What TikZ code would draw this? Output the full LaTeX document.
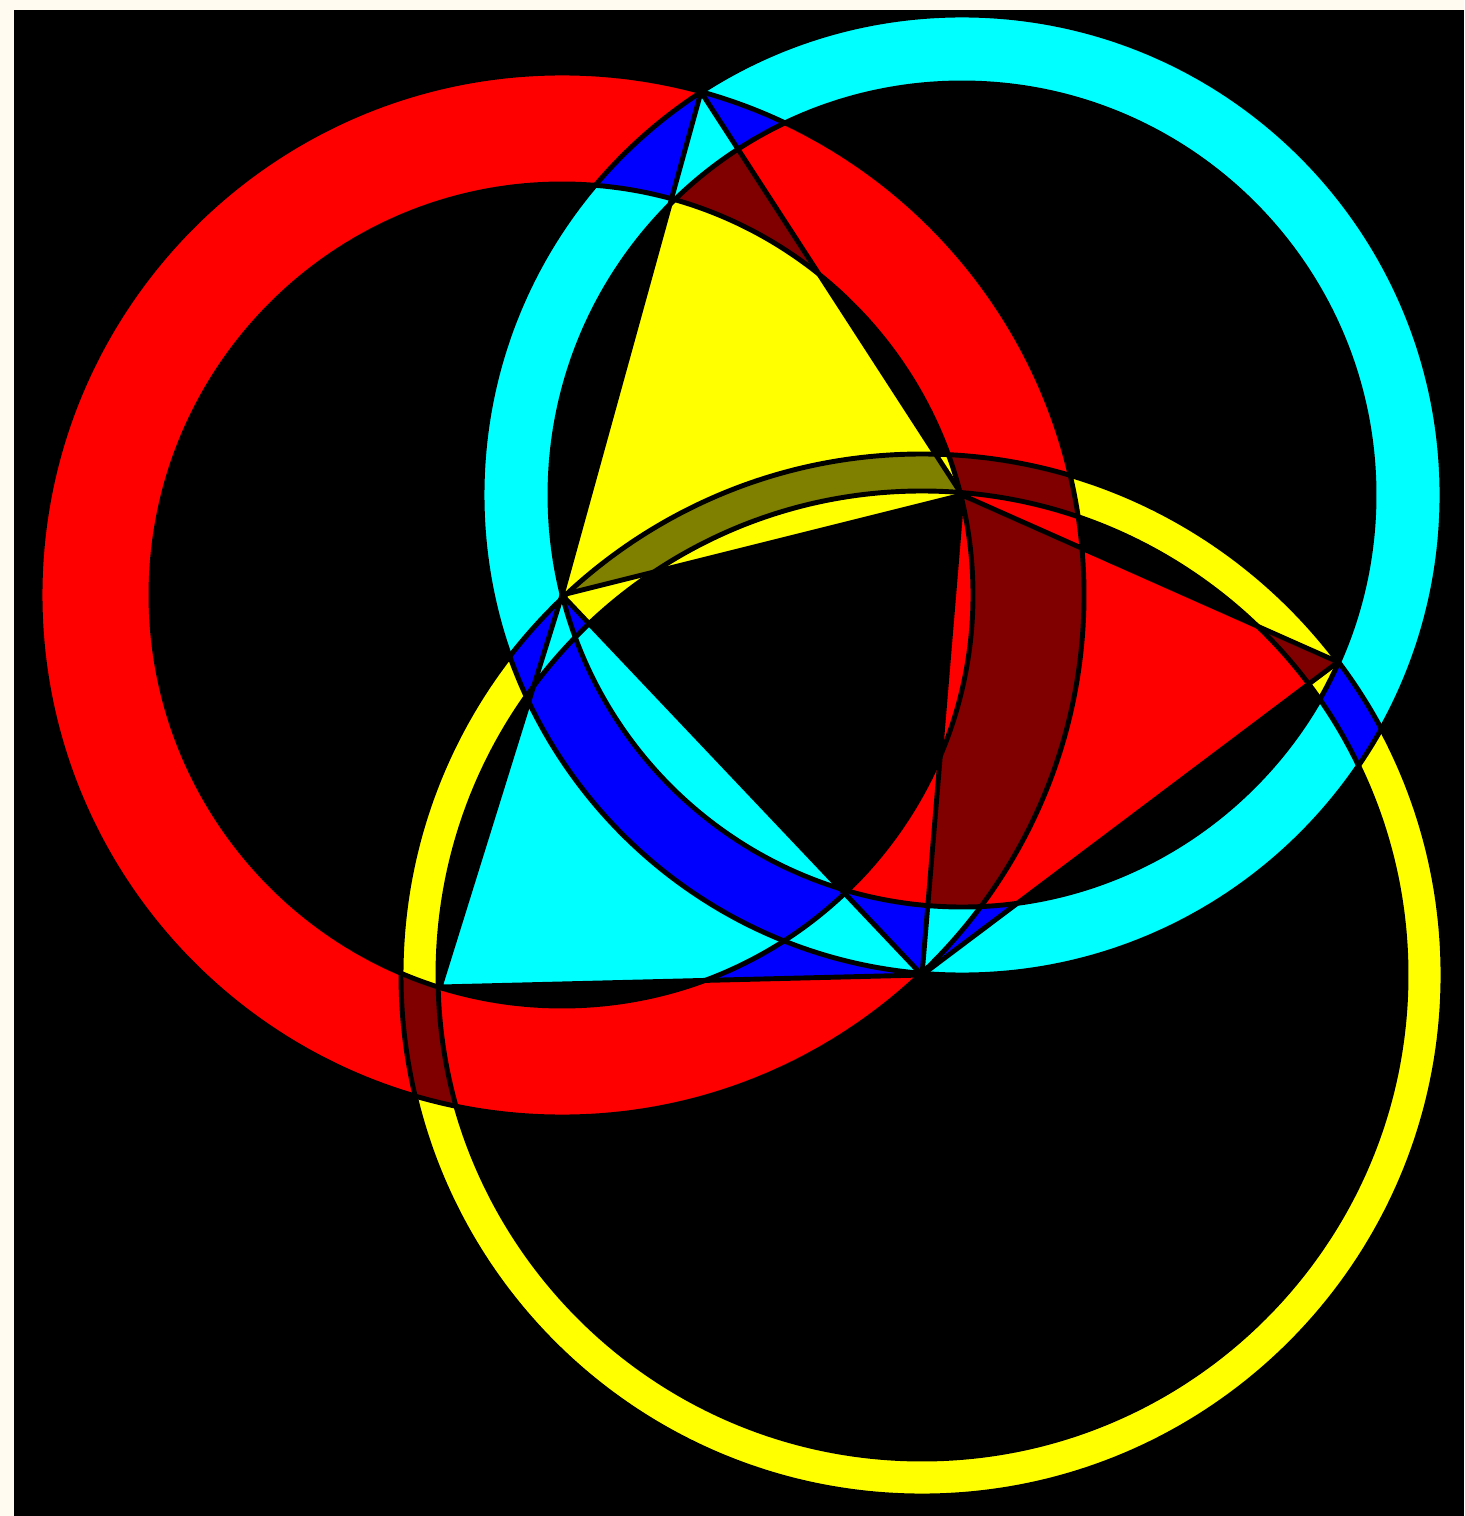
\documentclass[tikz,border=0pt]{standalone}
\usepackage{tikz}

\definecolor{cream}{RGB}{255,251,240}
\definecolor{ringred}{RGB}{255,0,0}
\definecolor{aqua}{RGB}{0,255,255}
\definecolor{lemon}{RGB}{255,255,0}
\definecolor{pureblue}{RGB}{0,0,255}
\definecolor{maroon}{RGB}{128,0,0}
\definecolor{olivey}{RGB}{128,128,0}

% ring = outer circle one way round, inner circle the other way
\newcommand{\ringR}{(rc) ++(522,0) arc[start angle=0,end angle=360,radius=522] (rc) ++(411,0) arc[start angle=360,end angle=0,radius=411]}
\newcommand{\ringC}{(cc) ++(480,0) arc[start angle=0,end angle=360,radius=480] (cc) ++(412,0) arc[start angle=360,end angle=0,radius=412]}
\newcommand{\ringY}{(yc) ++(521,0) arc[start angle=0,end angle=360,radius=521] (yc) ++(484,0) arc[start angle=360,end angle=0,radius=484]}
\newcommand{\triA}{(top) -- (rc) -- (cc) -- cycle}
\newcommand{\triB}{(cc) -- (rv) -- (yc) -- cycle}
\newcommand{\triC}{(rc) -- (yc) -- (ll) -- cycle}
\newcommand{\twofill}[3]{\begin{scope}\clip #2;\clip #3;\fill[#1] (0,0) rectangle (1464,1516);\end{scope}}
\newcommand{\threefill}[4]{\begin{scope}\clip #2;\clip #3;\clip #4;\fill[#1] (0,0) rectangle (1464,1516);\end{scope}}

\begin{document}
\begin{tikzpicture}[x=0.01cm,y=-0.01cm,edge/.style={draw=black,line width=1.4pt,line join=round}]
\useasboundingbox (0,0) rectangle (1464,1516);
\fill[cream] (0,0) rectangle (1464,1516);
\fill[black] (14,10) rectangle (1464,1516);
\coordinate (rc) at (562,595);
\coordinate (cc) at (962,495);
\coordinate (yc) at (922,975);
\coordinate (top) at (701,92);
\coordinate (rv) at (1338,662);
\coordinate (ll) at (440,987);
% one shape
\fill[ringred] \ringR;
\fill[aqua] \ringC;
\fill[lemon] \ringY;
\fill[lemon] \triA;
\fill[ringred] \triB;
\fill[aqua] \triC;
% two shapes
\twofill{pureblue}{\ringR}{\ringC}
\twofill{maroon}{\ringR}{\ringY}
\twofill{pureblue}{\ringC}{\ringY}
\twofill{maroon}{\ringR}{\triA}
\twofill{maroon}{\ringR}{\triB}
\twofill{pureblue}{\ringR}{\triC}
\twofill{pureblue}{\ringC}{\triA}
\twofill{pureblue}{\ringC}{\triB}
\twofill{pureblue}{\ringC}{\triC}
\twofill{olivey}{\ringY}{\triA}
\twofill{maroon}{\ringY}{\triB}
\twofill{pureblue}{\ringY}{\triC}
% three shapes
\threefill{aqua}{\ringR}{\ringC}{\triA}
\threefill{aqua}{\ringR}{\ringC}{\triB}
\threefill{aqua}{\ringR}{\ringC}{\triC}
\threefill{aqua}{\ringC}{\ringY}{\triC}
% outlines
\draw[edge] (rc) circle[radius=522];
\draw[edge] (rc) circle[radius=411];
\draw[edge] (cc) circle[radius=480];
\draw[edge] (cc) circle[radius=412];
\draw[edge] (yc) circle[radius=521];
\draw[edge] (yc) circle[radius=484];
\draw[edge] \triA;
\draw[edge] \triB;
\draw[edge] \triC;
\end{tikzpicture}
\end{document}
